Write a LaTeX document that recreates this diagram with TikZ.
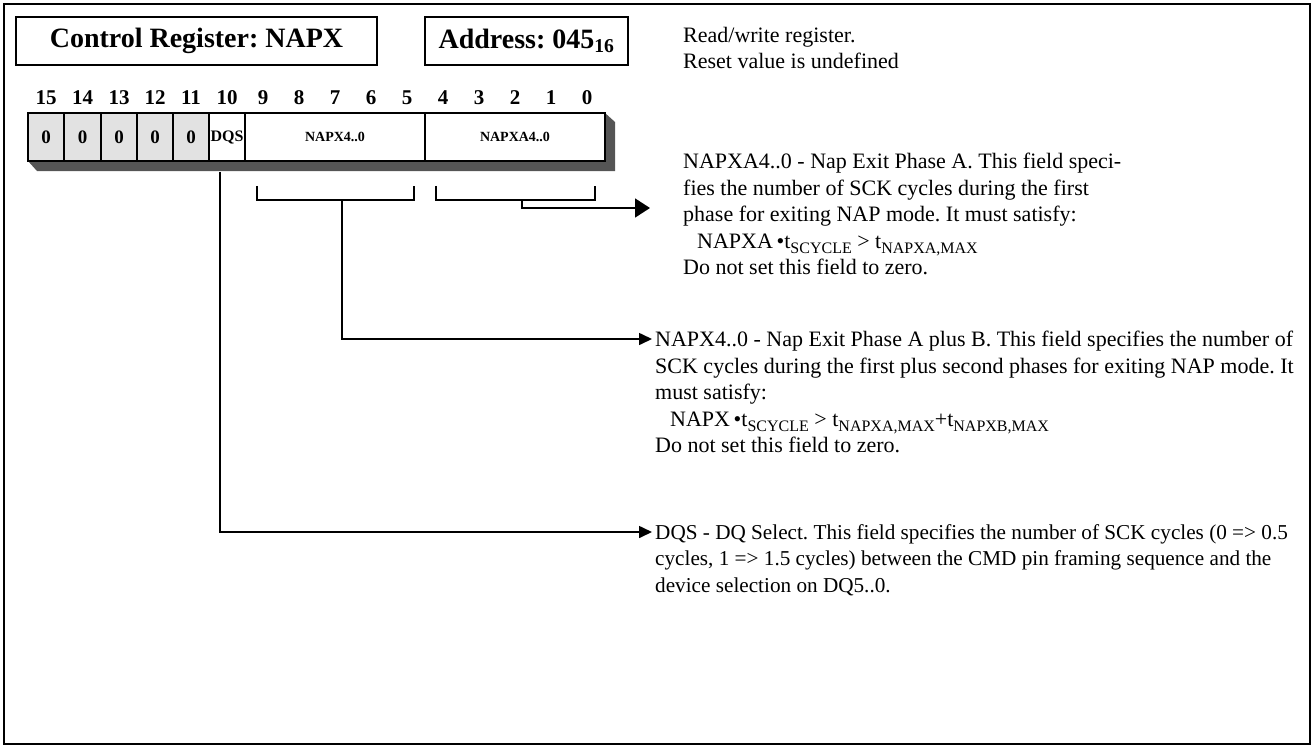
\documentclass[tikz,border=0pt]{standalone}
\usepackage{fontspec}
\setmainfont{Liberation Serif}
\usepackage{xcolor}
\usepackage{tikz}
\usetikzlibrary{arrows.meta,positioning,calc}
\definecolor{grisclaro}{RGB}{226,226,226}
\definecolor{grisoscuro}{RGB}{85,85,85}
\newcommand{\subtxt}[1]{\raisebox{-5pt}{\fontsize{16}{16}\selectfont #1}}
\frenchspacing

\begin{document}
\begin{tikzpicture}[x=1pt,y=-1pt,
caja/.style={draw,line width=1.6pt,minimum height=48pt,inner sep=0pt,font=\fontsize{28}{30}\selectfont\bfseries},
celda/.style={draw,line width=1.6pt,minimum height=48pt,inner sep=0pt,font=\fontsize{19}{20}\selectfont\bfseries},
cero/.style={celda,fill=grisclaro,minimum width=36pt},
campo/.style={celda,minimum width=180pt,font=\fontsize{14}{15}\selectfont\bfseries},
numbit/.style={inner sep=0pt,font=\fontsize{21}{22}\selectfont\bfseries},
texto/.style={anchor=north west,align=left,inner sep=0pt,font=\fontsize{22}{26.5}\selectfont},
arr/.style={-{Triangle[length=13pt,width=12pt]},line width=1.6pt},
llave/.style={line width=1.6pt}
]
\useasboundingbox (0,0) rectangle (1314,747);
\draw[line width=1.6pt] (4,4) rectangle (1310,744);

\node[caja,minimum width=361pt] (titulo) at (196.5,41) {Control Register: NAPX};
\node[caja,minimum width=203pt] (direccion) at (526.5,41) {Address: 045\textsubscript{16}};
\node[texto] (acceso) at (683,27) {Read/write register.\\Reset value is undefined};

% numeros de bit
\node[numbit] (n15) at (46,98) {15};
\node[numbit] (n14) at (82.5,98) {14};
\node[numbit] (n13) at (119,98) {13};
\node[numbit] (n12) at (155,98) {12};
\node[numbit] (n11) at (191,98) {11};
\node[numbit] (n10) at (227,98) {10};
\node[numbit] (n9) at (263,98) {9};
\node[numbit] (n8) at (299,98) {8};
\node[numbit] (n7) at (335,98) {7};
\node[numbit] (n6) at (371,98) {6};
\node[numbit] (n5) at (407,98) {5};
\node[numbit] (n4) at (443,98) {4};
\node[numbit] (n3) at (479,98) {3};
\node[numbit] (n2) at (515,98) {2};
\node[numbit] (n1) at (551,98) {1};
\node[numbit] (n0) at (587,98) {0};

% registro
\fill[grisoscuro] (28,161) -- (37,171) -- (615,171) -- (615,122) -- (605,113) -- (605,161) -- cycle;
\node[cero] (b15) at (46,137) {0};
\node[cero] (b14) at (82.5,137) {0};
\node[cero] (b13) at (119,137) {0};
\node[cero] (b12) at (155,137) {0};
\node[cero] (b11) at (191,137) {0};
\node[celda,minimum width=36pt,font=\fontsize{16}{17}\selectfont\bfseries] (dqs) at (227,137) {DQS};
\node[campo] (napx) at (335,137) {NAPX4..0};
\node[campo] (napxa) at (515,137) {NAPXA4..0};

\draw[llave] ($(napx.south west)+(13,24)$) -- ++(0,14) -| ($(napx.south east)+(-12,24)$);
\draw[llave] ($(napxa.south west)+(12,24)$) -- ++(0,14) -| ($(napxa.south east)+(-11,24)$);

\node[texto] (napxadesc) at (683,153) {NAPXA4..0 - Nap Exit Phase A. This field speci-\\
fies the number of SCK cycles during the first\\
phase for exiting NAP mode. It must satisfy:\\
\hspace*{14pt}NAPXA\,\textbullet t\subtxt{SCYCLE} > t\subtxt{NAPXA,MAX}\\
Do not set this field to zero.};
\node[texto] (napxdesc) at (655,331) {NAPX4..0 - Nap Exit Phase A plus B. This field specifies the number of\\
SCK cycles during the first plus second phases for exiting NAP mode. It\\
must satisfy:\\
\hspace*{15pt}NAPX\,\textbullet t\subtxt{SCYCLE} > t\subtxt{NAPXA,MAX}+t\subtxt{NAPXB,MAX}\\
Do not set this field to zero.};
\node[texto,font=\fontsize{21.2}{26.5}\selectfont] (dqsdesc) at (655,524) {DQS - DQ Select. This field specifies the number of SCK cycles (0 => 0.5\\
cycles, 1 => 1.5 cycles) between the CMD pin framing sequence and the\\
device selection on DQ5..0.};

\draw[arr,-{Triangle[length=15pt,width=19pt]}] ($(napxa.south)+(7,38)$) |- ([xshift=-33pt,yshift=-55pt]napxadesc.north west);
\draw[arr] ($(napx.south)+(7,38)$) |- ([xshift=-3pt,yshift=-8pt]napxdesc.north west);
\draw[arr] ($(dqs.south)+(-7,10)$) |- ([xshift=-3pt,yshift=-8pt]dqsdesc.north west);
\end{tikzpicture}
\end{document}
